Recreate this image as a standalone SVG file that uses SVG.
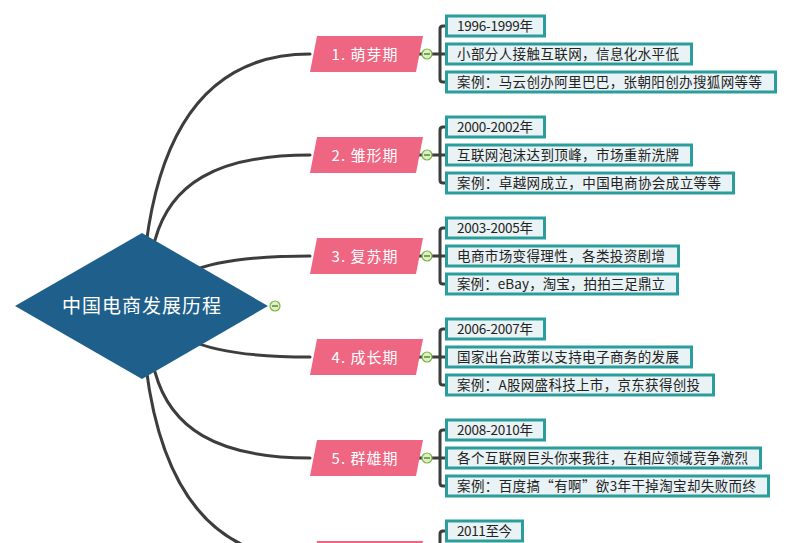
<svg xmlns="http://www.w3.org/2000/svg" width="800" height="543" viewBox="0 0 800 543">
<style>
.conn{fill:none;stroke:#3d3d3d;stroke-width:3;stroke-linecap:round}
.br{fill:none;stroke:#3d3d3d;stroke-width:3}
.topic{fill:#ef6682}
.ttxt{font-family:"Noto Sans CJK SC","Noto Sans",sans-serif;font-size:15px;fill:#ffffff;text-anchor:middle;letter-spacing:1px}
.sub{fill:#e9f2f4;stroke:#2a9d9c;stroke-width:3}
.stxt{font-family:"Noto Sans CJK SC","Noto Sans",sans-serif;font-size:13.5px;fill:#222222}
.col{fill:#dcf2c4;stroke:#7cb342;stroke-width:1.2}
.colm{stroke:#3d6b1f;stroke-width:1.2}
</style>
<rect width="800" height="543" fill="#ffffff"/>
<g id="connectors">
<path class="conn" d="M146,245 Q170,54 310,54"/>
<path class="conn" d="M155,240 C170,185 215,155 310,155"/>
<path class="conn" d="M190,272 Q225,256 310,256"/>
<path class="conn" d="M190,340 Q225,357 310,357"/>
<path class="conn" d="M155,372 C170,427 215,458 310,458"/>
<path class="conn" d="M146,367 Q170,559 310,559"/>
<!-- brackets -->
<path class="br" d="M418,54 H446 M446,26 H443 Q440,26 440,29 V79 Q440,82 443,82 H446"/>
<path class="br" d="M418,155 H446 M446,127 H443 Q440,127 440,130 V180 Q440,183 443,183 H446"/>
<path class="br" d="M418,256 H446 M446,228 H443 Q440,228 440,231 V281 Q440,284 443,284 H446"/>
<path class="br" d="M418,357 H446 M446,329 H443 Q440,329 440,332 V382 Q440,385 443,385 H446"/>
<path class="br" d="M418,458 H446 M446,430 H443 Q440,430 440,433 V483 Q440,486 443,486 H446"/>
<path class="br" d="M446,531 H443 Q440,531 440,534 V560"/>
</g>
<g id="root">
<polygon points="15,306 142,233 268,306 142,379" fill="#1f5f8b"/>
<text x="142" y="313" font-family="'Noto Sans CJK SC','Noto Sans',sans-serif" font-size="19" fill="#ffffff" text-anchor="middle" letter-spacing="1">中国电商发展历程</text>
<circle class="col" cx="275" cy="306" r="5"/>
<line class="colm" x1="272" y1="306" x2="278" y2="306"/>
</g>
<g id="topic1">
<polygon class="topic" points="317,36 423,36 416,72 310,72"/>
<text class="ttxt" x="365" y="59.5">1. 萌芽期</text>
<circle class="col" cx="427" cy="54" r="5"/>
<line class="colm" x1="424" y1="54" x2="430" y2="54"/>
</g>
<g id="topic1-sub">
<rect class="sub" x="446.5" y="16" width="98" height="20"/>
<text class="stxt" x="457" y="30.5" textLength="76">1996-1999年</text>
<rect class="sub" x="446.5" y="44" width="245" height="20"/>
<text class="stxt" x="457" y="58.5" textLength="222">小部分人接触互联网，信息化水平低</text>
<rect class="sub" x="446.5" y="72" width="329" height="20"/>
<text class="stxt" x="457" y="86.5" textLength="305">案例：马云创办阿里巴巴，张朝阳创办搜狐网等等</text>
</g>
<g id="topic2">
<polygon class="topic" points="317,137 423,137 416,173 310,173"/>
<text class="ttxt" x="365" y="160.5">2. 雏形期</text>
<circle class="col" cx="427" cy="155" r="5"/>
<line class="colm" x1="424" y1="155" x2="430" y2="155"/>
</g>
<g id="topic2-sub">
<rect class="sub" x="446.5" y="117" width="98" height="20"/>
<text class="stxt" x="457" y="131.5" textLength="76">2000-2002年</text>
<rect class="sub" x="446.5" y="145" width="245" height="20"/>
<text class="stxt" x="457" y="159.5" textLength="222">互联网泡沫达到顶峰，市场重新洗牌</text>
<rect class="sub" x="446.5" y="173" width="287" height="20"/>
<text class="stxt" x="457" y="187.5" textLength="264">案例：卓越网成立，中国电商协会成立等等</text>
</g>
<g id="topic3">
<polygon class="topic" points="317,238 423,238 416,274 310,274"/>
<text class="ttxt" x="365" y="261.5">3. 复苏期</text>
<circle class="col" cx="427" cy="256" r="5"/>
<line class="colm" x1="424" y1="256" x2="430" y2="256"/>
</g>
<g id="topic3-sub">
<rect class="sub" x="446.5" y="218" width="98" height="20"/>
<text class="stxt" x="457" y="232.5" textLength="76">2003-2005年</text>
<rect class="sub" x="446.5" y="246" width="232" height="20"/>
<text class="stxt" x="457" y="260.5" textLength="208">电商市场变得理性，各类投资剧增</text>
<rect class="sub" x="446.5" y="274" width="231" height="20"/>
<text class="stxt" x="457" y="288.5" textLength="208">案例：eBay，淘宝，拍拍三足鼎立</text>
</g>
<g id="topic4">
<polygon class="topic" points="317,339 423,339 416,375 310,375"/>
<text class="ttxt" x="365" y="362.5">4. 成长期</text>
<circle class="col" cx="427" cy="357" r="5"/>
<line class="colm" x1="424" y1="357" x2="430" y2="357"/>
</g>
<g id="topic4-sub">
<rect class="sub" x="446.5" y="319" width="98" height="20"/>
<text class="stxt" x="457" y="333.5" textLength="76">2006-2007年</text>
<rect class="sub" x="446.5" y="347" width="245" height="20"/>
<text class="stxt" x="457" y="361.5" textLength="222">国家出台政策以支持电子商务的发展</text>
<rect class="sub" x="446.5" y="375" width="267" height="20"/>
<text class="stxt" x="457" y="389.5" textLength="243">案例：A股网盛科技上市，京东获得创投</text>
</g>
<g id="topic5">
<polygon class="topic" points="317,440 423,440 416,476 310,476"/>
<text class="ttxt" x="365" y="463.5">5. 群雄期</text>
<circle class="col" cx="427" cy="458" r="5"/>
<line class="colm" x1="424" y1="458" x2="430" y2="458"/>
</g>
<g id="topic5-sub">
<rect class="sub" x="446.5" y="420" width="98" height="20"/>
<text class="stxt" x="457" y="434.5" textLength="76">2008-2010年</text>
<rect class="sub" x="446.5" y="448" width="314" height="20"/>
<text class="stxt" x="457" y="462.5" textLength="291">各个互联网巨头你来我往，在相应领域竞争激烈</text>
<rect class="sub" x="446.5" y="476" width="322" height="20"/>
<text class="stxt" x="457" y="490.5" textLength="299">案例：百度搞“有啊”欲3年干掉淘宝却失败而终</text>
</g>
<g id="topic6">
<polygon class="topic" points="317,541 423,541 416,577 310,577"/>
</g>
<g id="topic6-sub">
<rect class="sub" x="446.5" y="521" width="76" height="20"/>
<text class="stxt" x="457" y="535.5" textLength="55">2011至今</text>
</g>
</svg>
